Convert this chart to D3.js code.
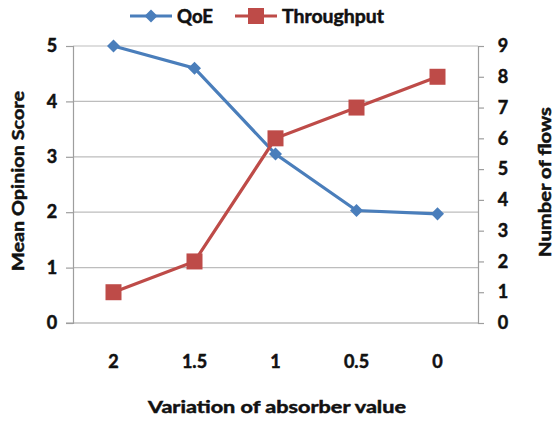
<!DOCTYPE html>
<html><head><meta charset="utf-8">
<script src="https://cdn.jsdelivr.net/npm/d3@7"></script>
<style>body{margin:0;background:#fff}svg{display:block}text{font-family:Lato,"Open Sans",sans-serif;font-weight:700;fill:#111}</style>
</head><body><svg id="c" width="558" height="423"></svg>
<script>
const categories = ["2","1.5","1","0.5","0"];
const qoe = [5, 4.6, 3.05, 2.03, 1.97];
const throughput = [1, 2, 6, 7, 8];
const leftTicks = [0,1,2,3,4,5];
const rightTicks = [0,1,2,3,4,5,6,7,8,9];
const seriesNames = ["QoE","Throughput"];
const colors = {QoE:"#4A7EBB", Throughput:"#BE4B48"};

const svg = d3.select("#c");
const L = 73, R = 478, T = 46, B = 323;
const x = d3.scaleBand().domain(categories).range([L, R]);
const yL = d3.scaleLinear().domain([0,5]).range([B, T]);
const yR = d3.scaleLinear().domain([0,9]).range([B, T]);
const heavy = sel => sel.attr("stroke", "#111").attr("stroke-width", 0.5).attr("paint-order", "stroke");

// gridlines
svg.append("g").selectAll("line").data(leftTicks.filter(d=>d>0)).join("line")
  .attr("x1", L).attr("x2", R).attr("y1", d=>yL(d)).attr("y2", d=>yL(d))
  .attr("stroke", "#BDBDBD").attr("stroke-width", 1.2);

const gl = svg.append("g").attr("transform", `translate(${L},0)`)
  .call(d3.axisLeft(yL).tickValues(leftTicks).tickSize(7).tickPadding(14).tickFormat(d3.format("d")));
const gr = svg.append("g").attr("transform", `translate(${R},0)`)
  .call(d3.axisRight(yR).tickValues(rightTicks).tickSize(6).tickPadding(19).tickFormat(d3.format("d")));
const gb = svg.append("g").attr("transform", `translate(0,${B})`)
  .call(d3.axisBottom(x).tickSize(0).tickPadding(32));
[gl, gr, gb].forEach(g => {
  g.select(".domain").attr("stroke", "#9E9E9E").attr("stroke-width", 1.2);
  g.selectAll(".tick line").attr("stroke", "#9E9E9E").attr("stroke-width", 1.2);
  g.selectAll(".tick text").attr("font-size", 18).attr("font-family", "Lato").attr("font-weight", 700).attr("fill", "#111").call(heavy);
});
gl.selectAll(".tick text").attr("text-anchor", "middle");
gr.selectAll(".tick text").attr("text-anchor", "middle");
gb.select(".domain").attr("d", `M${L-7},0H${R}`);

// series
const cx = i => x(categories[i]) + x.bandwidth()/2;
const lineL = d3.line().x((d,i)=>cx(i)).y(d=>yL(d));
const lineR = d3.line().x((d,i)=>cx(i)).y(d=>yR(d));
svg.append("path").datum(qoe).attr("d", lineL).attr("fill","none").attr("stroke", colors.QoE).attr("stroke-width", 3.2);
svg.append("path").datum(throughput).attr("d", lineR).attr("fill","none").attr("stroke", colors.Throughput).attr("stroke-width", 3.2);
svg.append("g").selectAll("path").data(qoe).join("path")
  .attr("d", d3.symbol().type(d3.symbolSquare).size(85))
  .attr("transform", (d,i)=>`translate(${cx(i)},${yL(d)}) rotate(45)`)
  .attr("fill", colors.QoE);
svg.append("g").selectAll("rect").data(throughput).join("rect")
  .attr("x", (d,i)=>cx(i) - 8).attr("y", d=>yR(d)-8)
  .attr("width", 16).attr("height", 16).attr("fill", colors.Throughput);

// titles
svg.append("text").attr("transform", `translate(24,181) rotate(-90)`).attr("text-anchor","middle")
  .attr("font-size", 17).attr("textLength", 180).attr("lengthAdjust","spacingAndGlyphs").text("Mean Opinion Score").call(heavy);
svg.append("text").attr("transform", `translate(551,182) rotate(-90)`).attr("text-anchor","middle")
  .attr("font-size", 17).attr("textLength", 150).attr("lengthAdjust","spacingAndGlyphs").text("Number of flows").call(heavy);
svg.append("text").attr("x", 277).attr("y", 413).attr("text-anchor","middle")
  .attr("font-size", 17).attr("textLength", 258).attr("lengthAdjust","spacingAndGlyphs").text("Variation of absorber value").call(heavy);

// legend
const legX = [130, 235];
const legLen = [36, 102];
seriesNames.forEach((s,i)=>{
  const g = svg.append("g").attr("transform", `translate(${legX[i]},16)`);
  g.append("line").attr("x1",0).attr("x2",42).attr("y1",0).attr("y2",0).attr("stroke",colors[s]).attr("stroke-width",3.2);
  if (s === "QoE") g.append("path").attr("d", d3.symbol().type(d3.symbolSquare).size(85)).attr("transform","translate(21,0) rotate(45)").attr("fill",colors[s]);
  else g.append("rect").attr("x",13).attr("y",-8).attr("width",16).attr("height",16).attr("fill",colors[s]);
  g.append("text").attr("x",47).attr("y",7).attr("font-size",18).attr("textLength", legLen[i]).attr("lengthAdjust","spacingAndGlyphs").text(s).call(heavy);
});
</script></body></html>
